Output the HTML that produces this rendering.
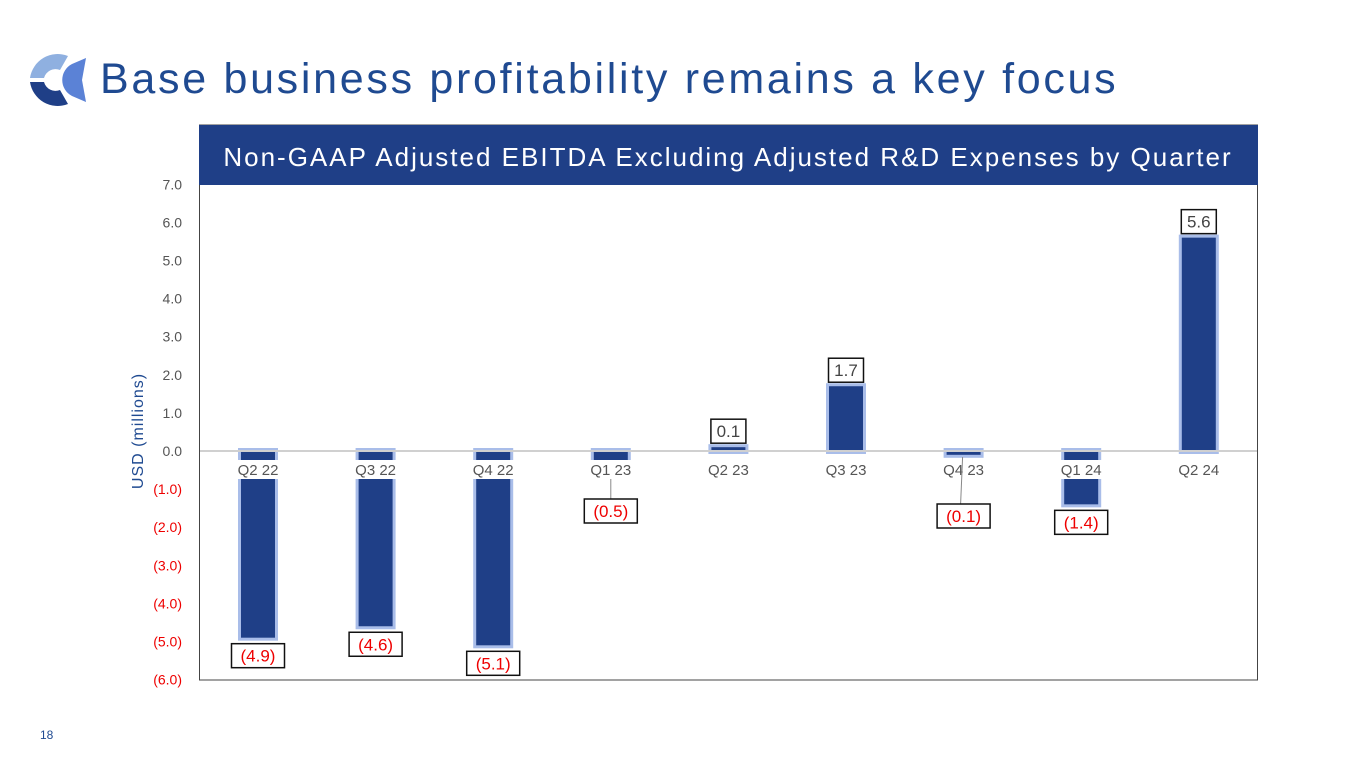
<!DOCTYPE html>
<html><head><meta charset="utf-8"><style>
body{margin:0;width:1365px;height:768px;background:#fff;overflow:hidden;font-family:"Liberation Sans",sans-serif;position:relative}
#title{position:absolute;left:100px;top:55px;font-size:43px;color:#1f4a91;letter-spacing:2.7px;white-space:nowrap}
#pg{position:absolute;left:40px;top:728px;font-size:12px;color:#1f4a91}
svg{position:absolute;left:0;top:0}
</style></head><body>
<svg width="80" height="120" style="left:20px;top:40px">
<path d="M10,38 A28,28 0 0 1 48,16 L40,30 A12,12 0 0 0 24,38 Z" fill="#8fb0e0"/>
<path d="M10,42 A28,28 0 0 0 48,64 L40,50 A12,12 0 0 1 24,42 Z" fill="#1f3f87"/>
<path d="M66,18 A26,26 0 0 0 66,62 L62,58 A20,20 0 0 1 62,22 Z" fill="#4f78d0"/>
<path d="M52,24 L66,18 L62,40 L66,62 L52,56 A18,18 0 0 1 52,24Z" fill="#5b82d6"/>
</svg>
<div id="title">Base business profitability remains a key focus</div>
<div id="pg">18</div>
<svg id="chart" width="1365" height="768"></svg>
<script>
const categories=["Q2 22","Q3 22","Q4 22","Q1 23","Q2 23","Q3 23","Q4 23","Q1 24","Q2 24"];
const values=[-4.9,-4.6,-5.1,-0.5,0.1,1.7,-0.1,-1.4,5.6];
const labels=["(4.9)","(4.6)","(5.1)","(0.5)","0.1","1.7","(0.1)","(1.4)","5.6"];
const yTicks=[7,6,5,4,3,2,1,0,-1,-2,-3,-4,-5,-6];
const NS="http://www.w3.org/2000/svg";
const svg=document.getElementById('chart');
function y(v){return 451-v*38.1;}
function x(i){return 258+i*117.6;}
function mk(t,a,p){const e=document.createElementNS(NS,t);for(const k in a)e.setAttribute(k,a[k]);(p||svg).appendChild(e);return e;}
let e=mk('rect',{x:199.5,y:125,width:1058,height:555,fill:'#fff',stroke:'#444','stroke-width':1});

e=mk('rect',{x:199,y:125,width:1059,height:60,fill:'#1f3f87'});

e=mk('text',{x:728,y:166,'text-anchor':'middle','font-size':26,fill:'#fff','letter-spacing':'2'});
e.textContent='Non-GAAP Adjusted EBITDA Excluding Adjusted R&D Expenses by Quarter';

yTicks.forEach(v=>{const t=mk('text',{x:182,y:y(v)+5,'text-anchor':'end','font-size':14,fill:v<0?'#e00':'#555'});
t.textContent=v<0?'('+(-v).toFixed(1)+')':v.toFixed(1);
});
e=mk('text',{x:0,y:0,'text-anchor':'middle','font-size':16,fill:'#1f4a91','letter-spacing':'1',transform:'translate(143,431) rotate(-90)'});
e.textContent='USD (millions)';
values.forEach((v,i)=>{const top=Math.min(y(v),y(0)),h=Math.max(Math.abs(y(v)-y(0)),2);
const g=mk('rect',{x:x(i)-20,y:top-3,width:40,height:h+6,fill:'#a9bde9'});

const b=mk('rect',{x:x(i)-17,y:top,width:34,height:h,fill:'#1f3f87'});
});
e=mk('line',{x1:200,x2:1257,y1:451,y2:451,stroke:'#d0d0d0','stroke-width':2});

categories.forEach((c,i)=>{const bg=mk('rect',{x:x(i)-25,y:460,width:50,height:19,fill:'#fff'});

const t=mk('text',{x:x(i),y:475,'text-anchor':'middle','font-size':15,fill:'#555'});t.textContent=c;
});
values.forEach((v,i)=>{let cy;
if(v>=0)cy=y(v)-16;else{cy=Math.max(y(v)+18,y(0)+60);}
if(v<0&&v>-1){cy=y(0)+60+(i==6?5:0);const l=mk('line',{x1:x(i)+(i==6?-1:0),x2:x(i)+(i==6?-3:0),y1:y(0)+(i==6?6:28),y2:cy-12,stroke:'#888'});}
if(i==7)cy=y(v)+18;
const w=labels[i].length*9+8;
const r=mk('rect',{x:x(i)-w/2,y:cy-12,width:w,height:24,fill:'#fff',stroke:'#111','stroke-width':1.5});

const t=mk('text',{x:x(i),y:cy+6,'text-anchor':'middle','font-size':17,fill:v<0?'#e00':'#444'});t.textContent=labels[i];
});
</script>
</body></html>
